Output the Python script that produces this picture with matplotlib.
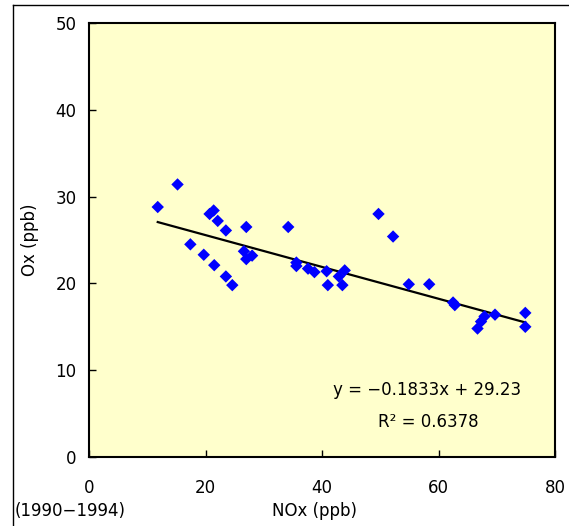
import matplotlib
matplotlib.use('Agg')
import matplotlib.pyplot as plt
from matplotlib.lines import Line2D
import numpy as np

plt.rcParams['font.family'] = ['DejaVu Sans']

# NOx vs Ox, 1990-1994
nox = [11.8, 15.2, 17.4, 19.7, 20.7, 21.4, 21.5, 22.1, 23.5, 23.5, 24.6,
       26.6, 27.0, 27.0, 28.0, 34.2, 35.6, 35.6, 37.6, 38.7, 40.8, 41.0,
       42.9, 43.5, 43.9, 49.7, 52.2, 54.9, 58.4, 62.5, 62.8, 66.7, 67.3,
       67.9, 69.7, 74.9, 74.9]
ox = [28.8, 31.4, 24.5, 23.3, 28.0, 28.4, 22.1, 27.2, 26.1, 20.8, 19.8,
      23.7, 26.5, 22.8, 23.2, 26.5, 22.4, 22.0, 21.7, 21.3, 21.4, 19.8,
      20.8, 19.8, 21.5, 28.0, 25.4, 19.9, 19.9, 17.8, 17.5, 14.8, 15.6,
      16.2, 16.4, 16.6, 15.0]

slope = -0.1833
intercept = 29.23
eq_text = 'y = \u22120.1833x + 29.23'
r2_text = 'R\u00b2 = 0.6378'

xticks = [0, 20, 40, 60, 80]
yticks = [0, 10, 20, 30, 40, 50]

fig = plt.figure(figsize=(5.69, 5.26), dpi=100)
ax = fig.add_axes([89 / 569, 1 - 457 / 526, 466 / 569, 434 / 526])
ax.set_facecolor('#FFFFCC')

ax.scatter(nox, ox, marker='D', s=40, color='#0000FF', edgecolors='none', zorder=3)

# trend line over the data range
xl = np.array([min(nox), max(nox)])
ax.plot(xl, slope * xl + intercept, color='black', lw=1.6, zorder=2)

ax.text(58, 7.7, eq_text, ha='center', va='center', fontsize=12)
ax.text(58.3, 4.0, r2_text, ha='center', va='center', fontsize=12)

ax.set_xlim(0, 80)
ax.set_ylim(0, 50)
ax.set_xticks(xticks)
ax.set_yticks(yticks)
ax.tick_params(direction='in', length=5, width=1, labelsize=12)
ax.tick_params(axis='x', pad=16)
ax.tick_params(axis='y', pad=9)
for sp in ax.spines.values():
    sp.set_linewidth(1.5)

fig.text(30 / 569, 1 - 240 / 526, 'Ox (ppb)', rotation=90, ha='center', va='center', fontsize=12)
fig.text(314 / 569, 1 - 511 / 526, 'NOx (ppb)', ha='center', va='center', fontsize=12)
fig.text(15 / 569, 1 - 511 / 526, '(1990\u22121994)', ha='left', va='center', fontsize=12)

# outer frame (top and left edges)
fig.add_artist(Line2D([13 / 569, 1.0], [1 - 5 / 526, 1 - 5 / 526], color='black', lw=1, transform=fig.transFigure))
fig.add_artist(Line2D([13 / 569, 13 / 569], [0.0, 1 - 5 / 526], color='black', lw=1, transform=fig.transFigure))

fig.savefig('out.png', dpi=100)
